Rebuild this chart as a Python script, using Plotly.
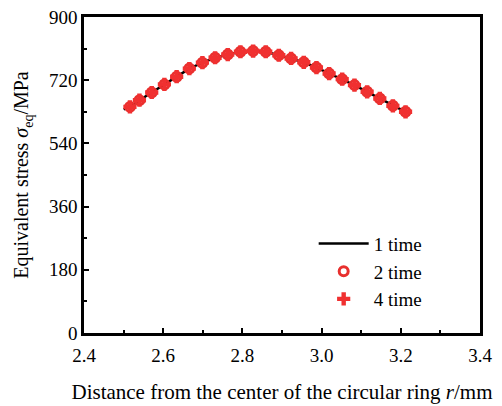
import plotly.graph_objects as go

# Data
r_pts = [2.516, 2.540, 2.571, 2.603, 2.634, 2.666, 2.699, 2.731, 2.763, 2.795, 2.827, 2.859,
         2.892, 2.923, 2.955, 2.987, 3.019, 3.052, 3.083, 3.115, 3.147, 3.180, 3.212]
s_pts = [644, 663, 685, 708, 730, 753, 770, 784, 793, 801, 803, 801,
         791, 782, 771, 756, 739, 723, 706, 687, 668, 647, 630]

r_line = [2.500] + r_pts
s_line = [637] + s_pts

x_ticks = [2.4, 2.6, 2.8, 3.0, 3.2, 3.4]
y_ticks = [0, 180, 360, 540, 720, 900]

FONT = "Liberation Serif"

fig = go.Figure()
fig.add_trace(go.Scatter(x=r_line, y=s_line, mode="lines", name="1 time",
                         line=dict(color="black", width=2.5)))
fig.add_trace(go.Scatter(x=r_pts, y=s_pts, mode="markers", name="2 time",
                         marker=dict(symbol="circle-open", color="#e8302e", size=9,
                                     line=dict(width=3, color="#e8302e"))))
fig.add_trace(go.Scatter(x=r_pts, y=s_pts, mode="markers", name="4 time",
                         marker=dict(symbol="cross", color="#f03030", size=11,
                                     line=dict(width=0))))

axis_common = dict(showline=True, linecolor="black", linewidth=2.5, mirror=True,
                   ticks="inside", ticklen=5, tickwidth=1.5, tickcolor="black",
                   showgrid=False, zeroline=False, automargin=False,
                   tickfont=dict(family=FONT, size=19, color="black"))

fig.update_xaxes(range=[2.4, 3.4], tickvals=x_ticks, tickformat=".1f",
                 ticklabelstandoff=3,
                 minor=dict(ticks="inside", ticklen=3, dtick=0.1, tickcolor="black", tickwidth=1.5),
                 title=dict(text="Distance from the center of the circular ring <i>r</i>/mm",
                            font=dict(family=FONT, size=21, color="black"), standoff=20),
                 **axis_common)
fig.update_yaxes(range=[0, 900], tickvals=y_ticks,
                 minor=dict(ticks="inside", ticklen=3, dtick=90, tickcolor="black", tickwidth=1.5),
                 title=dict(text="Equivalent stress <i>σ</i><sub>eq</sub>/MPa",
                            font=dict(family=FONT, size=20, color="black"), standoff=15),
                 **axis_common)

fig.update_layout(
    width=502, height=406,
    margin=dict(l=84, r=22, t=17, b=73),
    paper_bgcolor="white", plot_bgcolor="white",
    font=dict(family=FONT, size=19, color="black"),
    legend=dict(x=0.58, y=0.343, xanchor="left", yanchor="top",
                bgcolor="rgba(0,0,0,0)", font=dict(family=FONT, size=19),
                itemwidth=50, tracegroupgap=0),
    showlegend=True,
)

fig.write_html("out.html")
